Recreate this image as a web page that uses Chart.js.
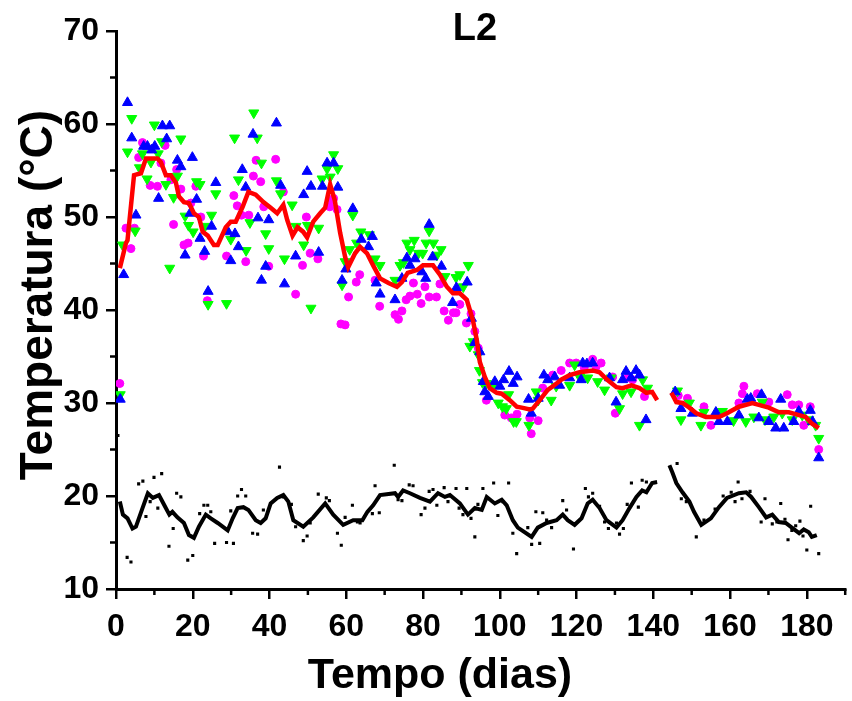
<!DOCTYPE html>
<html>
<head>
<meta charset="utf-8">
<script src="https://cdn.jsdelivr.net/npm/chart.js@4"></script>
<style>
  html, body { margin: 0; padding: 0; background: #fff; }
  #wrap { width: 852px; height: 701px; position: relative; }
</style>
</head>
<body>
<div id="wrap"><canvas id="tempChart"></canvas></div>
<script>
// eixos
const chartTitle = 'L2';
const xTitle = 'Tempo (dias)';
const yTitle = 'Temperatura (°C)';
const xTicks = [0, 20, 40, 60, 80, 100, 120, 140, 160, 180];
const xMinor = [10, 30, 50, 70, 90, 110, 130, 150, 170, 190];
const yTicks = [10, 20, 30, 40, 50, 60, 70];
const yMinor = [15, 25, 35, 45, 55, 65];

// sensor azul (dia, °C)
const blueData = [
  [1.1, 30.4], [2.0, 43.8], [3.0, 62.3], [4.1, 58.5], [5.2, 50.2], [7.2, 57.6], [8.2, 57.6], [9.3, 57.2],
  [10.1, 57.6], [11.1, 52.0], [12.1, 59.8], [13.2, 58.4], [14.0, 59.8], [16.0, 56.1], [16.9, 55.4], [18.0, 45.9],
  [19.3, 50.4], [19.9, 56.4], [21.0, 51.9], [21.9, 47.7], [23.1, 46.3], [24.0, 42.0], [24.9, 49.0], [26.0, 53.7],
  [29.2, 48.4], [29.9, 45.3], [31.0, 48.2], [31.9, 46.8], [32.9, 55.1], [33.8, 53.2], [35.7, 58.9], [37.0, 49.9],
  [37.9, 43.2], [39.0, 44.7], [39.8, 49.7], [41.8, 60.1], [42.9, 53.4], [43.9, 42.8], [46.8, 45.8], [48.9, 52.4],
  [49.8, 54.9], [50.8, 53.3], [52.8, 46.2], [53.8, 53.3], [55.0, 55.8], [56.7, 55.8], [57.8, 53.2], [58.9, 43.2],
  [59.9, 44.4], [61.7, 50.9], [63.9, 47.6], [65.8, 46.8], [66.8, 47.9], [67.8, 42.9], [68.8, 41.7], [72.7, 41.1],
  [74.5, 43.4], [75.8, 45.6], [76.6, 44.8], [77.9, 45.5], [79.7, 44.1], [80.7, 43.4], [81.6, 49.2], [82.5, 45.7],
  [84.8, 44.7], [87.7, 40.8], [88.7, 42.4], [91.5, 43.0], [92.6, 39.1], [93.5, 36.5], [94.8, 35.5], [95.7, 32.3],
  [96.1, 31.2], [97.0, 30.7], [98.7, 32.3], [100.0, 31.8], [101.0, 32.5], [102.4, 33.4], [103.5, 32.1], [104.5, 32.8],
  [107.5, 30.4], [108.2, 28.9], [110.0, 30.5], [111.5, 33.0], [112.5, 32.5], [114.3, 32.8], [115.6, 31.9], [118.2, 32.7],
  [121.2, 32.5], [121.6, 34.3], [122.7, 34.2], [124.2, 34.3], [128.6, 32.7], [130.3, 30.1], [132.0, 32.5], [132.9, 33.4],
  [134.2, 32.7], [135.5, 33.5], [136.4, 33.0], [138.1, 28.2], [145.7, 31.2], [147.2, 29.4], [150.2, 28.9], [156.3, 29.0],
  [157.1, 28.0], [159.3, 28.0], [162.3, 28.7], [164.5, 30.4], [165.4, 30.5], [167.5, 28.4], [168.2, 30.9], [170.1, 28.0],
  [171.9, 27.3], [173.2, 30.4], [174.0, 27.3], [176.6, 28.0], [177.9, 29.1], [180.9, 29.2], [181.5, 28.0], [183.1, 24.1]
];

// sensor verde
const greenData = [
  [1.1, 30.9], [1.7, 47.0], [3.0, 57.0], [4.1, 60.6], [5.0, 48.5], [6.1, 55.3], [6.9, 56.8], [8.1, 54.1],
  [9.1, 55.9], [10.0, 59.9], [11.0, 56.8], [11.9, 58.1], [13.0, 53.5], [14.0, 44.5], [15.0, 52.1], [16.0, 54.4],
  [16.9, 58.4], [18.0, 50.1], [18.9, 49.1], [20.1, 48.4], [21.0, 53.8], [21.9, 53.5], [23.2, 49.0], [24.0, 40.6],
  [24.9, 50.2], [26.0, 52.5], [28.8, 40.7], [29.9, 47.6], [30.9, 58.5], [31.9, 54.0], [33.9, 46.4], [34.9, 49.4],
  [35.9, 61.2], [36.8, 58.5], [37.9, 55.8], [39.0, 48.2], [39.8, 46.6], [41.8, 53.9], [42.9, 52.5], [43.9, 45.5],
  [45.9, 51.3], [46.9, 49.0], [48.9, 47.0], [49.9, 49.1], [50.8, 40.2], [52.8, 48.8], [53.7, 54.1], [55.0, 55.2],
  [55.8, 54.3], [56.7, 56.7], [57.8, 55.2], [58.9, 42.7], [59.7, 45.2], [60.9, 46.5], [61.7, 50.2], [62.7, 47.2],
  [63.8, 48.4], [66.0, 48.1], [67.5, 45.5], [68.8, 44.8], [72.7, 43.2], [74.0, 44.8], [74.9, 45.1], [75.8, 47.2],
  [76.6, 46.5], [77.7, 47.5], [78.8, 46.1], [79.9, 46.1], [80.8, 47.2], [81.6, 48.5], [82.7, 47.2], [83.6, 45.9],
  [84.7, 46.5], [85.7, 43.6], [88.6, 43.5], [89.6, 43.8], [90.5, 42.5], [91.8, 44.8], [92.2, 36.1], [93.1, 36.6],
  [94.4, 35.2], [94.7, 33.5], [95.5, 32.2], [96.5, 32.1], [98.3, 31.9], [99.6, 30.0], [100.7, 29.6], [101.7, 29.4],
  [102.3, 30.9], [103.6, 28.0], [104.3, 28.0], [107.6, 27.6], [109.5, 31.2], [110.0, 30.3], [113.4, 30.3], [114.7, 31.8],
  [118.2, 31.9], [119.5, 34.1], [120.8, 32.8], [122.9, 32.7], [125.5, 32.3], [127.3, 31.4], [129.0, 32.7], [131.2, 29.4],
  [132.0, 31.0], [134.2, 31.2], [136.4, 27.6], [137.2, 32.5], [138.5, 31.6], [146.3, 31.3], [147.2, 28.2], [149.4, 30.0],
  [152.4, 27.6], [153.2, 29.0], [158.0, 29.1], [160.9, 28.1], [164.1, 28.0], [166.2, 28.5], [168.4, 30.1], [169.1, 28.2],
  [171.4, 28.5], [173.6, 28.9], [176.2, 28.2], [178.8, 28.7], [180.5, 28.2], [182.3, 27.6], [183.1, 26.2]
];

// sensor magenta
const magentaData = [
  [1.0, 32.1], [2.6, 48.8], [3.9, 46.6], [4.8, 48.8], [5.9, 56.4], [6.9, 58.0], [8.9, 53.4], [10.8, 53.3],
  [11.7, 55.8], [12.8, 57.7], [14.3, 54.0], [15.0, 49.2], [15.8, 55.1], [16.9, 53.0], [17.7, 47.0], [18.8, 47.2],
  [19.5, 51.5], [20.8, 53.3], [22.1, 50.0], [22.8, 45.8], [23.8, 41.0], [28.8, 45.8], [30.7, 52.3], [31.6, 51.2],
  [32.7, 50.2], [33.8, 45.2], [34.6, 50.2], [35.8, 54.4], [36.5, 56.1], [37.7, 53.8], [38.5, 51.1], [39.8, 44.7],
  [41.6, 56.2], [43.6, 52.7], [46.8, 41.7], [48.6, 44.8], [49.6, 50.0], [50.6, 46.1], [52.6, 45.5], [55.7, 51.1],
  [56.3, 51.8], [56.7, 52.0], [57.6, 50.8], [58.6, 38.5], [59.7, 38.4], [60.6, 41.4], [62.6, 43.0], [63.5, 43.8],
  [67.5, 43.2], [68.7, 40.4], [72.7, 39.5], [73.6, 39.0], [74.5, 39.9], [75.6, 41.1], [76.6, 41.5], [77.5, 42.9],
  [78.5, 41.7], [79.5, 40.7], [80.5, 42.5], [81.6, 41.4], [83.5, 41.4], [84.4, 42.8], [85.5, 39.9], [86.6, 38.9],
  [87.9, 39.7], [88.6, 39.7], [89.6, 40.6], [91.3, 38.6], [92.5, 39.6], [93.5, 37.7], [94.4, 35.9], [96.5, 30.3],
  [101.3, 28.7], [103.0, 28.4], [104.5, 28.8], [107.8, 28.4], [108.2, 26.7], [110.0, 28.1], [111.2, 31.6], [113.8, 33.0],
  [116.0, 33.5], [118.2, 34.3], [119.9, 34.3], [122.0, 33.8], [124.2, 34.7], [125.1, 33.9], [126.4, 34.3], [129.4, 32.8],
  [130.1, 28.9], [133.3, 32.7], [134.6, 32.5], [137.7, 30.7], [146.5, 30.8], [148.9, 30.5], [153.2, 29.6], [155.0, 27.6],
  [162.3, 30.0], [163.2, 31.0], [163.6, 31.8], [167.1, 31.0], [170.1, 30.1], [174.9, 30.9], [176.2, 29.8], [177.9, 29.8],
  [179.2, 27.6], [180.9, 29.6], [183.1, 25.0]
];

// media movel do composto (null = falha)
const avgData = [
  [1, 44.5], [2.6, 47.2], [3, 47.5], [4.7, 54.5], [6.5, 54.7], [7.8, 56.3], [9, 56.3], [10.8, 56.3], [11.7, 55.9],
  [13, 54.5], [14.3, 54.5], [15.6, 53.7], [16.4, 52.2], [17.7, 51.6], [19, 51.5], [20.3, 50.4], [21.6, 50], [22.6, 48.4],
  [23.9, 48], [25.5, 47], [26.5, 47], [28.6, 48.9], [29.9, 49.5], [31.2, 49.5], [33, 51.1], [34.5, 52.7], [36.4, 52.4],
  [38.4, 51.6], [40.3, 51], [42, 50.4], [43.6, 51.3], [44.6, 49.7], [46, 48], [47.3, 48.9], [48.8, 48.4], [49.8, 47.8],
  [51.4, 49.5], [53.2, 50.4], [54.5, 51], [55.8, 53.5], [57, 51.8], [58.4, 48.3], [59.7, 45.7], [60.5, 44.6], [62.3, 46.1],
  [63.6, 46.8], [65.4, 46.1], [67, 44.8], [68.8, 43.4], [71, 42.9], [73.2, 42.5], [74.5, 43], [76, 44], [78.4, 44.3],
  [80, 44.8], [82.6, 44.8], [84.4, 43.8], [86.2, 42.5], [87.8, 41.8], [89.6, 41.8], [91.4, 41.1], [93, 38.9], [94, 36.8],
  [94.8, 34.4], [96.1, 32.8], [97.4, 31.6], [99.2, 31.1], [100.5, 31.0], [102.6, 30.3], [104.4, 29.6], [105.7, 29.5],
  [107.8, 29.3], [108.6, 29.4], [110.4, 30.3], [112.5, 31.4], [114.8, 32.1], [116, 32.5], [118.2, 33], [120.8, 33.3],
  [124.2, 33.5], [126, 33.3], [128, 32.5], [130.4, 31.7], [132, 31.6], [134.3, 31.9], [136.4, 31.6], [138.2, 31.1],
  [139.7, 31.2], [141, 30.3], [142.8, null], [144.7, 31.1], [146, 30.1], [147.6, 30], [149.4, 29.5], [151.2, 28.9],
  [153.7, 28.5], [157.1, 28.5], [159.2, 28.9], [162.3, 29.6], [165.8, 30], [167.5, 29.8], [170.1, 29.5], [172.7, 29],
  [175.3, 29], [178, 28.7], [179.7, 28.5], [181.3, 27.8], [183.1, 27.3]
];

// temperatura ambiente (pontos)
const ambientData = [
  [0.5, 26.5], [2.9, 13.4], [3.9, 12.9], [5.9, 21.3], [7.0, 21.6], [7.8, 17.8], [8.9, 19.4], [9.9, 22.0], [10.9, 18.7],
  [11.9, 22.4], [13.8, 14.6], [14.9, 16.5], [15.8, 20.3], [16.9, 19.9], [18.7, 13.1], [20.0, 13.6], [21.8, 18.1],
  [22.9, 19.0], [23.9, 19.0], [24.7, 18.3], [25.7, 14.9], [28.8, 15.0], [29.9, 18.4], [30.6, 14.9], [31.7, 20.0],
  [32.7, 20.7], [33.8, 20.0], [35.6, 16.0], [36.9, 15.9], [38.4, 18.5], [42.6, 23.1], [43.6, 19.9], [45.7, 19.1],
  [46.8, 16.7], [48.8, 15.2], [49.8, 15.7], [50.6, 17.1], [52.7, 20.2], [54.8, 19.8], [55.6, 19.5], [57.7, 16.0],
  [58.7, 14.7], [59.7, 17.7], [61.6, 19.0], [62.9, 17.2], [63.6, 17.1], [66.8, 18.1], [67.5, 21.1], [68.6, 18.2],
  [72.5, 23.3], [73.5, 19.6], [74.5, 19.5], [76.4, 21.2], [77.4, 21.1], [79.5, 18.0], [80.5, 18.7], [81.6, 20.5],
  [82.6, 20.7], [83.6, 19.0], [85.5, 20.9], [86.5, 19.4], [88.6, 20.8], [89.4, 18.7], [90.4, 18.0], [91.4, 20.8],
  [92.5, 17.6], [93.5, 15.6], [94.3, 19.1], [95.6, 20.8], [98.4, 21.4], [99.5, 17.9], [100.8, 19.4], [102.3, 21.4],
  [103.4, 16.0], [104.4, 13.8], [107.3, 16.6], [108.3, 14.8], [109.4, 18.3], [110.4, 14.9], [111.2, 18.2], [112.2, 17.4],
  [113.5, 16.6], [116.4, 19.5], [117.4, 18.5], [119.2, 14.3], [122.3, 20.8], [123.1, 19.9], [124.2, 20.3], [126.0, 18.9],
  [127.3, 17.2], [128.3, 16.5], [130.4, 17.1], [131.2, 15.9], [132.2, 16.5], [133.2, 19.1], [134.3, 21.4], [136.1, 18.8],
  [137.1, 21.7], [138.2, 21.5], [146.2, 23.5], [147.3, 19.7], [148.6, 19.4], [151.2, 15.6], [153.2, 17.4], [156.1, 18.6],
  [158.2, 20.0], [160.3, 20.4], [161.3, 19.4], [162.1, 21.5], [163.1, 19.7], [165.2, 20.5], [168.1, 17.2], [169.1, 19.7],
  [171.0, 17.0], [172.2, 17.2], [173.2, 19.2], [174.3, 17.5], [175.1, 15.3], [176.1, 16.3], [177.1, 16.8], [178.2, 17.3],
  [179.0, 15.7], [180.0, 14.2], [181.0, 18.9], [183.1, 13.8]
];

// media movel ambiente
const ambientAvgData = [
  [1, 19.4], [1.8, 18], [3, 17.6], [4.3, 16.5], [5.2, 16.7], [7, 18.8], [8.3, 20.3], [9.6, 19.8], [11.2, 20.1], [12.6, 19],
  [13.9, 18], [14.7, 18.3], [16, 17.7], [17.7, 17.1], [19, 15.8], [20.3, 15.5], [21.6, 16.7], [23.4, 18], [24.7, 17.6],
  [26.5, 17.1], [29.1, 16.3], [30.4, 17.6], [31.7, 18.7], [33.2, 18.8], [34.5, 18.5], [36.4, 17.4], [37.7, 17.1], [39, 17.6],
  [40.3, 19.2], [42, 19.8], [43.6, 20.1], [44.9, 19.4], [46.2, 17.4], [48.8, 16.7], [51.4, 17.7], [54.5, 19.2], [56.6, 18],
  [59.2, 16.9], [61.8, 17.4], [64.2, 17.4], [65.5, 18.3], [67, 19], [68.8, 20.1], [72.7, 20.3], [73.5, 19.9], [74.8, 20.6],
  [76.6, 20.3], [79.2, 19.8], [81.8, 19.4], [83.9, 20.3], [85.7, 19.9], [87, 20.1], [89.6, 19.2], [91.7, 18], [93.5, 18.7],
  [95.3, 18.5], [96.6, 19.9], [98.7, 19.2], [100.5, 19.6], [101.8, 19], [103.4, 17.4], [104.7, 16.6], [108.3, 15.6],
  [109.9, 16.6], [112.2, 17.1], [114.8, 17.4], [116.4, 18], [117.7, 17.4], [119.5, 16.9], [121.3, 17.6], [122.9, 19.2],
  [124.2, 19.6], [126, 18.7], [127.8, 17.4], [130.4, 16.6], [132, 17.4], [133.8, 18.7], [135.6, 19.9], [137.1, 20.6],
  [138.2, 20.4], [139.7, 21.4], [141, 21.5], [142.8, null], [144.2, 23.3], [145, 22.5], [146, 21.4], [147.6, 20.4],
  [149.4, 19.4], [150.6, 18.3], [152.5, 16.9], [155, 17.6], [157.1, 18.8], [159.2, 19.8], [162.3, 20.3], [164.2, 20.4],
  [165.5, 19.9], [167.5, 18.8], [169.4, 17.7], [171, 18], [172.7, 17.2], [174.5, 17.1], [176.1, 16.6], [178, 16],
  [179.2, 16.4], [180.5, 16.1], [181.3, 15.6], [182.6, 15.8]
];

const FONT = '"Liberation Sans", Arial, sans-serif';
const toXY = arr => arr.map(([x, y]) => ({ x, y }));

// marcas menores, titulo e rotulos dos eixos
const extras = {
  id: 'extras',
  afterDraw(chart) {
    const { ctx, scales: { x, y } } = chart;
    ctx.save();
    ctx.strokeStyle = '#000';
    ctx.lineWidth = 2.5;
    xMinor.forEach(v => {
      const px = x.getPixelForValue(v);
      ctx.beginPath(); ctx.moveTo(px, y.bottom); ctx.lineTo(px, y.bottom + 6); ctx.stroke();
    });
    yMinor.forEach(v => {
      const py = y.getPixelForValue(v);
      ctx.beginPath(); ctx.moveTo(x.left, py); ctx.lineTo(x.left - 6, py); ctx.stroke();
    });
    ctx.fillStyle = '#000';
    ctx.textAlign = 'center';
    ctx.textBaseline = 'middle';
    ctx.font = 'bold 38px ' + FONT;
    ctx.fillText(chartTitle, 475, 30);
    ctx.font = 'bold 43px ' + FONT;
    ctx.fillText(xTitle, 440, 676);
    ctx.translate(39, 295);
    ctx.rotate(-Math.PI / 2);
    ctx.font = 'bold 46px ' + FONT;
    ctx.fillText(yTitle, 0, 0);
    ctx.restore();
  }
};

const axisCommon = {
  type: 'linear',
  border: { display: true, color: '#000', width: 3 },
  grid: { display: true, drawOnChartArea: false, drawTicks: true, tickLength: 10, tickWidth: 2.5, tickColor: '#000', lineWidth: 2.5, color: '#000' },
};

new Chart(document.getElementById('tempChart'), {
  type: 'scatter',
  data: {
    datasets: [
      { label: 'media', data: toXY(avgData), showLine: true, borderColor: '#ff0000', borderWidth: 4.5, pointRadius: 0, spanGaps: false, order: 0 },
      { label: 'ambiente media', data: toXY(ambientAvgData), showLine: true, borderColor: '#000000', borderWidth: 4, pointRadius: 0, spanGaps: false, order: 1 },
      { label: 'azul', data: toXY(blueData), pointStyle: 'triangle', pointRadius: 5.8, backgroundColor: '#0000ff', borderColor: '#0000ff', borderWidth: 1, order: 2 },
      { label: 'verde', data: toXY(greenData), pointStyle: 'triangle', rotation: 180, pointRadius: 5.8, backgroundColor: '#00ff00', borderColor: '#00ff00', borderWidth: 1, order: 3 },
      { label: 'magenta', data: toXY(magentaData), pointStyle: 'circle', pointRadius: 4, backgroundColor: '#ff00ff', borderColor: '#ff00ff', borderWidth: 1, order: 4 },
      { label: 'ambiente', data: toXY(ambientData), pointStyle: 'rect', pointRadius: 2.2, backgroundColor: '#000000', borderColor: '#000000', borderWidth: 0, order: 5 }
    ]
  },
  options: {
    responsive: true, maintainAspectRatio: false, animation: false,
    layout: { padding: { left: 0, top: 31, right: 6, bottom: 0 } },
    plugins: { legend: { display: false }, tooltip: { enabled: false } },
    scales: {
      x: {
        ...axisCommon, min: 0, max: 190,
        ticks: { color: '#000', padding: 9, maxRotation: 0, autoSkip: false, font: { family: FONT, size: 32, weight: 'bold' } },
        afterBuildTicks: s => { s.ticks = xTicks.map(v => ({ value: v })); },
        afterFit: s => { s.height = 112; }
      },
      y: {
        ...axisCommon, min: 10, max: 70,
        ticks: { color: '#000', padding: 7, font: { family: FONT, size: 32, weight: 'bold' } },
        afterBuildTicks: s => { s.ticks = yTicks.map(v => ({ value: v })); },
        afterFit: s => { s.width = 116; }
      }
    }
  },
  plugins: [extras]
});
</script>
</body>
</html>
